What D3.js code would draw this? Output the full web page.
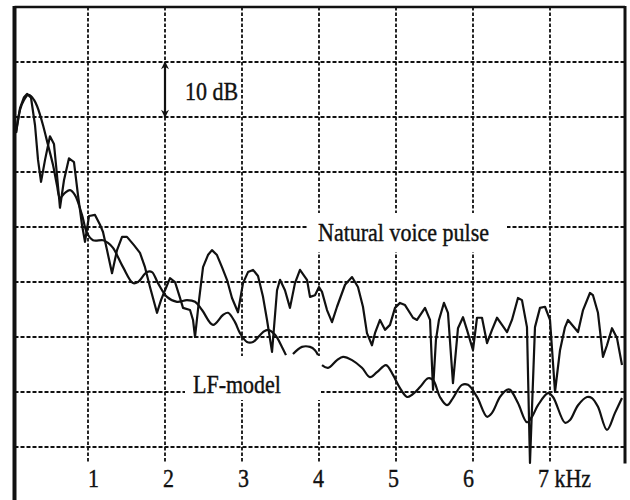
<!DOCTYPE html>
<html>
<head>
<meta charset="utf-8">
<script src="https://cdn.jsdelivr.net/npm/d3@7"></script>
<style>
body { margin: 0; background: #fff; }
text { font-family: "Liberation Serif", "Times New Roman", serif; fill: #111; font-size: 22px; stroke: #111; stroke-width: 0.35px; }
</style>
</head>
<body>
<div class="spectrum"></div>
<script>
// Define SVG dimensions.
var w = 630,
    h = 500;

// Natural voice pulse spectrum: frequency (kHz) and level (dB).
var naturalFreq = [0.065,0.117,0.169,0.208,0.260,0.312,0.351,0.390,0.442,0.506,
  0.558,0.597,0.636,0.688,0.753,0.818,0.870,0.922,0.961,1.013,
  1.091,1.156,1.195,1.247,1.312,1.377,1.442,1.506,1.597,1.675,
  1.740,1.805,1.896,1.948,2.000,2.065,2.130,2.195,2.234,2.325,
  2.364,2.390,2.442,2.494,2.558,2.610,2.675,2.740,2.805,2.870,
  2.948,3.013,3.078,3.143,3.208,3.273,3.325,3.390,3.455,3.494,
  3.558,3.623,3.688,3.753,3.844,3.883,3.948,4.000,4.039,4.104,
  4.169,4.234,4.338,4.429,4.506,4.571,4.623,4.688,4.727,4.792,
  4.857,4.922,4.987,5.052,5.117,5.221,5.273,5.377,5.442,5.481,
  5.519,5.558,5.623,5.675,5.740,5.805,5.870,5.922,6.000,6.052,
  6.117,6.182,6.247,6.312,6.377,6.442,6.506,6.584,6.636,6.701,
  6.740,6.805,6.870,6.935,7.000,7.065,7.130,7.195,7.234,7.364,
  7.429,7.519,7.558,7.623,7.688,7.740,7.805,7.870,7.935];
var naturalLevel = [-22.9,-18.4,-16.4,-15.8,-16.5,-21.5,-27.8,-31.8,-27.8,-23.5,
  -24.9,-30.5,-36.5,-31.5,-27.5,-28.2,-34.2,-39.6,-42.7,-38.0,
  -37.8,-39.6,-40.9,-44.2,-48.4,-44.2,-41.8,-41.8,-43.3,-44.7,
  -47.3,-50.9,-55.6,-53.3,-51.5,-49.3,-50.0,-52.9,-54.7,-55.1,
  -56.9,-60.0,-53.3,-47.3,-45.1,-44.2,-45.1,-47.3,-49.6,-52.9,
  -55.5,-50.2,-48.2,-47.8,-48.9,-52.7,-56.9,-62.7,-51.5,-49.6,
  -51.5,-54.7,-50.2,-47.8,-49.6,-52.7,-52.4,-50.9,-51.8,-55.1,
  -57.3,-54.5,-50.5,-49.1,-50.9,-54.5,-59.3,-61.5,-59.3,-56.9,
  -58.7,-57.8,-54.7,-53.8,-54.2,-56.5,-56.9,-54.7,-56.9,-69.6,
  -60.5,-56.9,-53.8,-55.6,-68.4,-58.4,-56.4,-58.7,-62.4,-56.5,
  -56.5,-61.1,-58.7,-56.5,-57.8,-59.1,-56.9,-52.9,-53.3,-58.2,
  -82.9,-58.2,-54.7,-54.5,-56.9,-70.0,-62.4,-58.2,-56.9,-59.1,
  -55.1,-52.0,-52.4,-55.6,-63.6,-61.5,-58.4,-60.2,-65.1];

// LF-model spectrum (null level = break in the drawn curve).
var lfFreq = [0.065,0.117,0.169,0.221,0.260,0.299,0.338,0.377,0.416,0.481,
  0.545,0.597,0.636,0.701,0.766,0.831,0.922,0.987,1.065,1.195,
  1.260,1.325,1.455,1.584,1.649,1.766,1.831,1.909,2.026,2.156,
  2.286,2.390,2.481,2.623,2.753,2.818,2.909,2.974,3.065,3.143,
  3.273,3.338,3.429,3.519,3.571,3.620,3.662,3.779,3.883,3.948,
  3.987,4.010,4.039,4.117,4.234,4.312,4.429,4.558,4.662,4.753,
  4.870,4.961,5.052,5.143,5.208,5.312,5.416,5.481,5.571,5.662,
  5.740,5.857,5.935,6.052,6.182,6.247,6.351,6.442,6.481,6.584,
  6.701,6.766,6.844,6.974,7.039,7.195,7.260,7.364,7.481,7.545,
  7.623,7.740,7.844,7.935];
var lfLevel = [-22.9,-18.7,-16.9,-16.0,-16.2,-16.9,-18.0,-19.6,-21.5,-25.1,
  -28.7,-32.4,-34.7,-33.8,-33.3,-34.2,-37.8,-41.1,-42.4,-42.4,
  -42.9,-43.8,-47.3,-50.2,-50.0,-48.2,-48.2,-50.2,-52.7,-53.6,
  -53.3,-53.6,-55.1,-57.8,-56.0,-55.6,-57.3,-59.3,-60.9,-60.9,
  -59.1,-58.7,-59.6,-61.8,-63.3,null,-63.1,-61.8,-61.8,-62.4,
  -63.3,null,-65.1,-65.6,-64.2,-63.6,-64.2,-65.6,-67.3,-66.4,
  -65.1,-66.9,-69.3,-70.9,-70.5,-69.1,-67.5,-67.8,-70.9,-72.4,
  -71.1,-68.7,-68.7,-70.9,-74.5,-73.8,-70.9,-69.6,-69.6,-72.0,
  -75.5,-74.5,-72.4,-70.2,-70.9,-75.6,-75.1,-72.4,-70.9,-71.1,
  -72.7,-76.9,-73.8,-71.1];

// Grid and tick labels.
var gridFreq = [1, 2, 3, 4, 5, 6, 7];
var gridLevel = [-10, -20, -30, -40, -50, -60, -70, -80];
var tickLabels = ["1", "2", "3", "4", "5", "6", "7 kHz"];

var svg = d3.select(".spectrum").append("svg")
  .attr("width", w)
  .attr("height", h);

svg.append("rect").attr("width", w).attr("height", h).attr("fill", "#fff");

var x = d3.scaleLinear().domain([0, 8]).range([11, 627]);
var y = d3.scaleLinear().domain([-90, 0]).range([502, 7]);

var ink = "#111";
var left = x(0) + 3.5,
    right = x(8) - 2,
    bottomGrid = y(-83);

// Dashed grid.
svg.append("g").selectAll("line")
  .data(gridLevel)
  .enter()
  .append("line")
  .attr("x1", left).attr("x2", right)
  .attr("y1", function(d) { return y(d); })
  .attr("y2", function(d) { return y(d); })
  .attr("stroke", ink)
  .attr("stroke-width", 1.9)
  .attr("stroke-dasharray", "4,2");

svg.append("g").selectAll("line")
  .data(gridFreq)
  .enter()
  .append("line")
  .attr("x1", function(d) { return x(d); })
  .attr("x2", function(d) { return x(d); })
  .attr("y1", y(0)).attr("y2", bottomGrid)
  .attr("stroke", ink)
  .attr("stroke-width", 1.8)
  .attr("stroke-dasharray", "3.5,2");

// Clear the grid behind the two curve labels.
svg.append("rect").attr("x", 307).attr("y", 213).attr("width", 200).attr("height", 39).attr("fill", "#fff");
svg.append("rect").attr("x", 185).attr("y", 356).attr("width", 136).attr("height", 44).attr("fill", "#fff");

// Frame: top, left and right edges.
svg.append("line")
  .attr("x1", left).attr("x2", right)
  .attr("y1", y(0)).attr("y2", y(0))
  .attr("stroke", ink).attr("stroke-width", 2.5);
svg.append("line")
  .attr("x1", left).attr("x2", left)
  .attr("y1", y(0) - 1).attr("y2", h)
  .attr("stroke", ink).attr("stroke-width", 4);
svg.append("line")
  .attr("x1", right).attr("x2", right)
  .attr("y1", y(0) - 1).attr("y2", bottomGrid)
  .attr("stroke", ink).attr("stroke-width", 3);

// Curves.
function toPoints(freq, level) {
  return freq.map(function(f, i) { return {f: f, v: level[i]}; });
}

var line = d3.line()
  .defined(function(d) { return d.v !== null; })
  .x(function(d) { return x(d.f); })
  .y(function(d) { return y(d.v); });

svg.append("path")
  .datum(toPoints(lfFreq, lfLevel))
  .attr("d", line.curve(d3.curveCatmullRom.alpha(0.5)))
  .attr("fill", "none")
  .attr("stroke", ink)
  .attr("stroke-width", 2.2)
  .attr("stroke-linejoin", "round");

svg.append("path")
  .datum(toPoints(naturalFreq, naturalLevel))
  .attr("d", line.curve(d3.curveLinear))
  .attr("fill", "none")
  .attr("stroke", ink)
  .attr("stroke-width", 2.2)
  .attr("stroke-linejoin", "round");

// 10 dB scale arrow.
svg.append("defs").append("marker")
  .attr("id", "head")
  .attr("viewBox", "0 0 10 10")
  .attr("refX", 9).attr("refY", 5)
  .attr("markerUnits", "userSpaceOnUse")
  .attr("markerWidth", 11).attr("markerHeight", 8)
  .attr("orient", "auto-start-reverse")
  .append("path")
  .attr("d", "M0,0 L10,5 L0,10 L3,5 z")
  .attr("fill", ink);

svg.append("line")
  .attr("x1", x(2)).attr("x2", x(2))
  .attr("y1", y(-10)).attr("y2", y(-20))
  .attr("stroke", ink).attr("stroke-width", 2.2)
  .attr("marker-start", "url(#head)")
  .attr("marker-end", "url(#head)");

// Annotations, slightly taller than wide like the scanned type.
function label(px, py, str) {
  svg.append("text")
    .attr("transform", "translate(" + px + "," + py + ") scale(1,1.12)")
    .text(str);
}
label(185, 100, "10 dB");
label(318, 241, "Natural voice pulse");
label(193, 393, "LF-model");

// Frequency tick labels.
var axis = svg.append("g")
  .attr("transform", "translate(0,487)")
  .call(d3.axisBottom(x)
    .tickValues(gridFreq)
    .tickSize(0)
    .tickFormat(function(d, i) { return tickLabels[i]; }));

axis.select(".domain").remove();
axis.selectAll("text")
  .attr("y", 0)
  .attr("dy", 0)
  .attr("transform", "scale(1,1.12)")
  .attr("dx", function(d) { return d === 7 ? 7 - 2 * d - 5.5 : 7 - 2 * d; })
  .style("text-anchor", function(d) { return d === 7 ? "start" : "middle"; });
</script>
</body>
</html>
